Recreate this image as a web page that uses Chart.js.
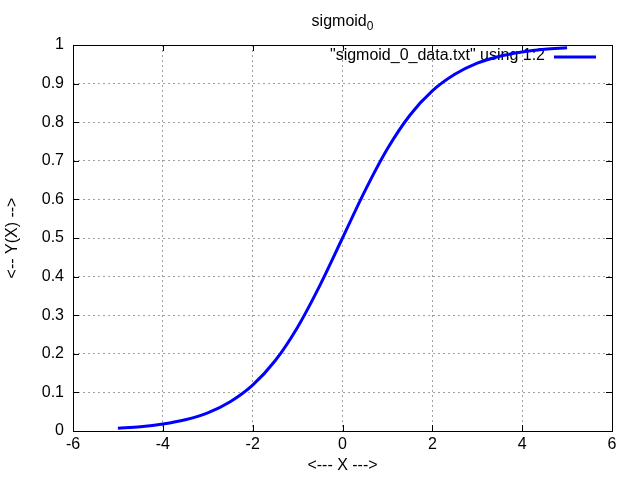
<!DOCTYPE html>
<html><head><meta charset="utf-8">
<script src="https://cdn.jsdelivr.net/npm/chart.js@4/dist/chart.umd.min.js"></script>
<style>html,body{margin:0;padding:0;background:#fff}#wrap{width:640px;height:480px}</style>
</head><body><div id="wrap"><canvas id="c" width="640" height="480"></canvas></div>
<script>
const xValues = [-5,-4.5,-4,-3.5,-3,-2.5,-2,-1.5,-1,-0.5,0,0.5,1,1.5,2,2.5,3,3.5,4,4.5,5];
const yValues = [0.007,0.011,0.018,0.029,0.047,0.076,0.119,0.182,0.269,0.378,0.5,0.622,0.731,0.818,0.881,0.924,0.953,0.971,0.982,0.989,0.993];
const titleText = "sigmoid";
const titleSub = "0";
const seriesLabel = '"sigmoid_0_data.txt" using 1:2';
const xAxisLabel = "<--- X --->";
const yAxisLabel = "<-- Y(X) -->";

const FONT = '"Liberation Sans", Arial, sans-serif';
const FS = 16;
const points = xValues.map((x,i)=>({x:x,y:yValues[i]}));

const decor = {
  id:'decor',
  beforeDatasetsDraw(chart){
    const ctx = chart.ctx, a = chart.chartArea;
    const xs = chart.scales.x, ys = chart.scales.y;
    ctx.save();
    ctx.strokeStyle = '#000'; ctx.lineWidth = 1; ctx.setLineDash([]);
    ctx.strokeRect(Math.round(a.left)+0.5, Math.round(a.top)+0.5, Math.round(a.right-a.left), Math.round(a.bottom-a.top));
    ctx.beginPath();
    xs.ticks.forEach(t=>{ const p = Math.round(xs.getPixelForValue(t.value))+0.5;
      ctx.moveTo(p,a.bottom); ctx.lineTo(p,a.bottom-6); ctx.moveTo(p,a.top); ctx.lineTo(p,a.top+6); });
    ys.ticks.forEach(t=>{ const p = Math.round(ys.getPixelForValue(t.value))+0.5;
      ctx.moveTo(a.left,p); ctx.lineTo(a.left+6,p); ctx.moveTo(a.right,p); ctx.lineTo(a.right-6,p); });
    ctx.stroke();
    // legend
    ctx.fillStyle = '#000'; ctx.font = FS + 'px ' + FONT;
    ctx.textAlign = 'right'; ctx.textBaseline = 'middle';
    ctx.fillText(seriesLabel, 545, 56);
    ctx.strokeStyle = '#0000ff'; ctx.lineWidth = 3;
    ctx.beginPath(); ctx.moveTo(554,57); ctx.lineTo(596,57); ctx.stroke();
    // title
    ctx.fillStyle = '#000'; ctx.font = FS + 'px ' + FONT;
    ctx.textAlign = 'left'; ctx.textBaseline = 'alphabetic';
    const tw = ctx.measureText(titleText).width;
    ctx.font = '12px ' + FONT;
    const sw = ctx.measureText(titleSub).width;
    const x0 = (a.left + a.right)/2 - (tw+sw)/2;
    ctx.font = FS + 'px ' + FONT;
    ctx.fillText(titleText, x0, 26);
    ctx.font = '12px ' + FONT;
    ctx.fillText(titleSub, x0+tw, 30);
    // axis labels
    ctx.font = FS + 'px ' + FONT;
    ctx.textAlign = 'center'; ctx.textBaseline = 'middle';
    ctx.fillText(xAxisLabel, (a.left+a.right)/2, 466);
    ctx.translate(13, (a.top+a.bottom)/2);
    ctx.rotate(-Math.PI/2);
    ctx.fillText(yAxisLabel, 0, 0);
    ctx.restore();
  }
};

new Chart(document.getElementById('c'), {
  type:'line',
  data:{ datasets:[{ label:seriesLabel, data:points, borderColor:'#0000ff', borderWidth:3,
    pointRadius:0, fill:false, cubicInterpolationMode:'monotone' }] },
  options:{
    responsive:false, animation:false, devicePixelRatio:1,
    layout:{ padding:{ top:45, right:28, left:0, bottom:0 } },
    plugins:{ legend:{display:false}, title:{display:false}, tooltip:{enabled:false} },
    scales:{
      x:{ type:'linear', min:-6, max:6,
        ticks:{ stepSize:2, color:'#000', font:{family:FONT, size:FS}, padding:4, maxRotation:0 },
        grid:{ color:'#a0a0a0', lineWidth:1, drawTicks:false },
        border:{ display:false, dash:[2,3] },
        afterFit(s){ s.height = 49; } },
      y:{ type:'linear', min:0, max:1,
        ticks:{ stepSize:0.1, color:'#000', font:{family:FONT, size:FS}, padding:9,
          callback:v=>Math.round(v*10)/10 },
        grid:{ color:'#a0a0a0', lineWidth:1, drawTicks:false },
        border:{ display:false, dash:[2,3] },
        afterFit(s){ s.width = 73; } }
    }
  },
  plugins:[decor]
});
</script></body></html>
